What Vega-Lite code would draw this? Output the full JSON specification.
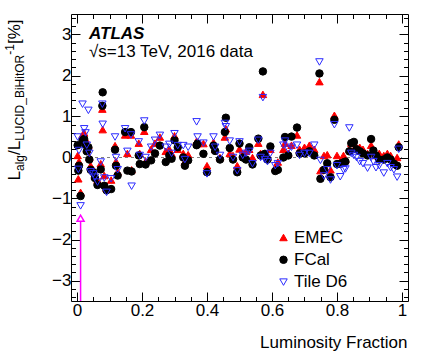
{
"$schema": "https://vega.github.io/schema/vega-lite/v6.json",
"width": 337, "height": 287,
"autosize": "none",
"padding": {"left": 71, "top": 14, "right": 17, "bottom": 61},
"background": "white",
"config": {
  "font": "Liberation Sans",
  "view": {"stroke": "#000000", "strokeWidth": 1},
  "axis": {"domain": false, "grid": false, "tickColor": "#000000", "tickWidth": 1, "labelFont": "Liberation Sans", "labelFontSize": 17, "labelColor": "#000000", "titleFont": "Liberation Sans", "titleFontSize": 17, "titleFontWeight": "normal", "titleColor": "#000000", "labelOverlap": false, "labelFlush": false}
},
"datasets": {
  "zero": [{"x0": 0, "x1": 1, "y": 0}],
  "arrow": [{"x": 0.011, "y0": -3.5, "y1": -1.555, "tip": -1.48}],
  "pts": [
{"series":"EMEC","x":0.002,"y":0.05},{"series":"EMEC","x":0.004,"y":-0.52},{"series":"EMEC","x":0.006,"y":-0.10},{"series":"EMEC","x":0.011,"y":-0.85},{"series":"EMEC","x":0.017,"y":0.55},{"series":"EMEC","x":0.022,"y":0.60},{"series":"EMEC","x":0.026,"y":0.45},{"series":"EMEC","x":0.030,"y":0.20},{"series":"EMEC","x":0.035,"y":0.30},{"series":"EMEC","x":0.038,"y":0.00},{"series":"EMEC","x":0.042,"y":-0.20},{"series":"EMEC","x":0.050,"y":-0.30},{"series":"EMEC","x":0.055,"y":-0.45},{"series":"EMEC","x":0.063,"y":-0.55},{"series":"EMEC","x":0.073,"y":-0.15},{"series":"EMEC","x":0.078,"y":1.18},{"series":"EMEC","x":0.079,"y":0.68},{"series":"EMEC","x":0.084,"y":-0.44},{"series":"EMEC","x":0.091,"y":-0.75},{"series":"EMEC","x":0.105,"y":-0.55},{"series":"EMEC","x":0.117,"y":0.29},{"series":"EMEC","x":0.120,"y":-0.10},{"series":"EMEC","x":0.125,"y":-0.35},{"series":"EMEC","x":0.148,"y":0.55},{"series":"EMEC","x":0.155,"y":0.10},{"series":"EMEC","x":0.166,"y":0.55},{"series":"EMEC","x":0.168,"y":-0.30},{"series":"EMEC","x":0.190,"y":0.35},{"series":"EMEC","x":0.193,"y":0.10},{"series":"EMEC","x":0.207,"y":0.64},{"series":"EMEC","x":0.211,"y":-0.10},{"series":"EMEC","x":0.228,"y":0.20},{"series":"EMEC","x":0.240,"y":0.35},{"series":"EMEC","x":0.255,"y":0.50},{"series":"EMEC","x":0.273,"y":0.15},{"series":"EMEC","x":0.284,"y":0.20},{"series":"EMEC","x":0.291,"y":0.10},{"series":"EMEC","x":0.300,"y":0.53},{"series":"EMEC","x":0.310,"y":0.20},{"series":"EMEC","x":0.327,"y":0.10},{"series":"EMEC","x":0.332,"y":-0.10},{"series":"EMEC","x":0.342,"y":0.07},{"series":"EMEC","x":0.368,"y":0.40},{"series":"EMEC","x":0.371,"y":0.34},{"series":"EMEC","x":0.389,"y":0.34},{"series":"EMEC","x":0.400,"y":-0.20},{"series":"EMEC","x":0.420,"y":0.37},{"series":"EMEC","x":0.425,"y":0.20},{"series":"EMEC","x":0.440,"y":0.00},{"series":"EMEC","x":0.455,"y":0.50},{"series":"EMEC","x":0.458,"y":0.70},{"series":"EMEC","x":0.470,"y":0.10},{"series":"EMEC","x":0.480,"y":0.05},{"series":"EMEC","x":0.493,"y":-0.20},{"series":"EMEC","x":0.500,"y":0.21},{"series":"EMEC","x":0.510,"y":0.10},{"series":"EMEC","x":0.520,"y":0.15},{"series":"EMEC","x":0.530,"y":0.20},{"series":"EMEC","x":0.540,"y":0.00},{"series":"EMEC","x":0.558,"y":0.35},{"series":"EMEC","x":0.565,"y":0.10},{"series":"EMEC","x":0.572,"y":1.54},{"series":"EMEC","x":0.578,"y":0.05},{"series":"EMEC","x":0.586,"y":0.00},{"series":"EMEC","x":0.595,"y":0.20},{"series":"EMEC","x":0.610,"y":-0.25},{"series":"EMEC","x":0.618,"y":-0.11},{"series":"EMEC","x":0.635,"y":0.20},{"series":"EMEC","x":0.640,"y":0.35},{"series":"EMEC","x":0.650,"y":0.10},{"series":"EMEC","x":0.660,"y":0.30},{"series":"EMEC","x":0.677,"y":0.55},{"series":"EMEC","x":0.685,"y":0.20},{"series":"EMEC","x":0.700,"y":0.25},{"series":"EMEC","x":0.715,"y":0.30},{"series":"EMEC","x":0.730,"y":0.20},{"series":"EMEC","x":0.746,"y":1.85},{"series":"EMEC","x":0.749,"y":-0.32},{"series":"EMEC","x":0.760,"y":0.05},{"series":"EMEC","x":0.770,"y":0.07},{"series":"EMEC","x":0.780,"y":-0.30},{"series":"EMEC","x":0.792,"y":1.03},{"series":"EMEC","x":0.800,"y":0.05},{"series":"EMEC","x":0.810,"y":-0.10},{"series":"EMEC","x":0.820,"y":0.05},{"series":"EMEC","x":0.826,"y":-0.05},{"series":"EMEC","x":0.838,"y":0.20},{"series":"EMEC","x":0.844,"y":0.35},{"series":"EMEC","x":0.852,"y":0.20},{"series":"EMEC","x":0.860,"y":0.25},{"series":"EMEC","x":0.870,"y":0.25},{"series":"EMEC","x":0.880,"y":0.20},{"series":"EMEC","x":0.894,"y":0.10},{"series":"EMEC","x":0.905,"y":0.30},{"series":"EMEC","x":0.912,"y":0.15},{"series":"EMEC","x":0.920,"y":0.05},{"series":"EMEC","x":0.930,"y":0.10},{"series":"EMEC","x":0.944,"y":0.05},{"series":"EMEC","x":0.955,"y":0.10},{"series":"EMEC","x":0.965,"y":0.05},{"series":"EMEC","x":0.975,"y":-0.10},{"series":"EMEC","x":0.985,"y":0.00},{"series":"EMEC","x":0.990,"y":0.33},
{"series":"FCal","x":0.002,"y":0.30},{"series":"FCal","x":0.004,"y":-0.32},{"series":"FCal","x":0.006,"y":-0.20},{"series":"FCal","x":0.011,"y":-0.94},{"series":"FCal","x":0.017,"y":0.42},{"series":"FCal","x":0.022,"y":0.45},{"series":"FCal","x":0.026,"y":0.31},{"series":"FCal","x":0.030,"y":0.15},{"series":"FCal","x":0.035,"y":0.25},{"series":"FCal","x":0.038,"y":-0.05},{"series":"FCal","x":0.042,"y":-0.30},{"series":"FCal","x":0.050,"y":-0.36},{"series":"FCal","x":0.055,"y":-0.50},{"series":"FCal","x":0.063,"y":-0.67},{"series":"FCal","x":0.073,"y":-0.29},{"series":"FCal","x":0.078,"y":1.26},{"series":"FCal","x":0.079,"y":1.59},{"series":"FCal","x":0.084,"y":-0.69},{"series":"FCal","x":0.091,"y":-0.80},{"series":"FCal","x":0.105,"y":-0.77},{"series":"FCal","x":0.117,"y":0.19},{"series":"FCal","x":0.120,"y":-0.20},{"series":"FCal","x":0.125,"y":-0.44},{"series":"FCal","x":0.148,"y":0.62},{"series":"FCal","x":0.155,"y":-0.32},{"series":"FCal","x":0.166,"y":0.62},{"series":"FCal","x":0.168,"y":-0.34},{"series":"FCal","x":0.190,"y":0.05},{"series":"FCal","x":0.193,"y":-0.16},{"series":"FCal","x":0.207,"y":0.74},{"series":"FCal","x":0.211,"y":-0.17},{"series":"FCal","x":0.228,"y":-0.07},{"series":"FCal","x":0.240,"y":0.10},{"series":"FCal","x":0.255,"y":0.29},{"series":"FCal","x":0.273,"y":-0.11},{"series":"FCal","x":0.284,"y":0.05},{"series":"FCal","x":0.291,"y":-0.03},{"series":"FCal","x":0.300,"y":0.42},{"series":"FCal","x":0.310,"y":0.25},{"series":"FCal","x":0.327,"y":0.00},{"series":"FCal","x":0.332,"y":-0.20},{"series":"FCal","x":0.342,"y":-0.07},{"series":"FCal","x":0.368,"y":0.30},{"series":"FCal","x":0.371,"y":0.34},{"series":"FCal","x":0.389,"y":0.09},{"series":"FCal","x":0.400,"y":-0.36},{"series":"FCal","x":0.420,"y":0.29},{"series":"FCal","x":0.425,"y":0.16},{"series":"FCal","x":0.440,"y":-0.05},{"series":"FCal","x":0.455,"y":0.62},{"series":"FCal","x":0.458,"y":0.97},{"series":"FCal","x":0.470,"y":0.23},{"series":"FCal","x":0.480,"y":-0.05},{"series":"FCal","x":0.493,"y":-0.36},{"series":"FCal","x":0.500,"y":0.34},{"series":"FCal","x":0.510,"y":0.00},{"series":"FCal","x":0.520,"y":-0.05},{"series":"FCal","x":0.530,"y":0.25},{"series":"FCal","x":0.540,"y":-0.17},{"series":"FCal","x":0.558,"y":0.46},{"series":"FCal","x":0.565,"y":0.05},{"series":"FCal","x":0.572,"y":2.10},{"series":"FCal","x":0.578,"y":0.09},{"series":"FCal","x":0.586,"y":-0.05},{"series":"FCal","x":0.595,"y":0.27},{"series":"FCal","x":0.610,"y":-0.33},{"series":"FCal","x":0.618,"y":-0.30},{"series":"FCal","x":0.635,"y":0.00},{"series":"FCal","x":0.640,"y":0.50},{"series":"FCal","x":0.650,"y":0.05},{"series":"FCal","x":0.660,"y":0.51},{"series":"FCal","x":0.677,"y":0.73},{"series":"FCal","x":0.685,"y":0.10},{"series":"FCal","x":0.700,"y":0.10},{"series":"FCal","x":0.715,"y":0.15},{"series":"FCal","x":0.730,"y":0.05},{"series":"FCal","x":0.746,"y":2.05},{"series":"FCal","x":0.749,"y":-0.52},{"series":"FCal","x":0.760,"y":-0.30},{"series":"FCal","x":0.770,"y":-0.14},{"series":"FCal","x":0.780,"y":-0.48},{"series":"FCal","x":0.792,"y":0.92},{"series":"FCal","x":0.800,"y":-0.16},{"series":"FCal","x":0.810,"y":-0.15},{"series":"FCal","x":0.820,"y":-0.12},{"series":"FCal","x":0.826,"y":-0.10},{"series":"FCal","x":0.838,"y":0.15},{"series":"FCal","x":0.844,"y":0.35},{"series":"FCal","x":0.852,"y":0.38},{"series":"FCal","x":0.860,"y":0.20},{"series":"FCal","x":0.870,"y":0.15},{"series":"FCal","x":0.880,"y":0.10},{"series":"FCal","x":0.894,"y":0.05},{"series":"FCal","x":0.905,"y":0.45},{"series":"FCal","x":0.912,"y":0.17},{"series":"FCal","x":0.920,"y":0.05},{"series":"FCal","x":0.930,"y":-0.05},{"series":"FCal","x":0.944,"y":-0.05},{"series":"FCal","x":0.955,"y":0.00},{"series":"FCal","x":0.965,"y":-0.05},{"series":"FCal","x":0.975,"y":-0.15},{"series":"FCal","x":0.985,"y":-0.20},{"series":"FCal","x":0.990,"y":0.25},
{"series":"Tile D6","x":0.002,"y":0.50},{"series":"Tile D6","x":0.004,"y":-0.29},{"series":"Tile D6","x":0.006,"y":0.17},{"series":"Tile D6","x":0.011,"y":-1.18},{"series":"Tile D6","x":0.017,"y":1.30},{"series":"Tile D6","x":0.022,"y":0.70},{"series":"Tile D6","x":0.026,"y":0.60},{"series":"Tile D6","x":0.030,"y":0.30},{"series":"Tile D6","x":0.035,"y":1.15},{"series":"Tile D6","x":0.038,"y":0.10},{"series":"Tile D6","x":0.042,"y":-0.35},{"series":"Tile D6","x":0.050,"y":-0.40},{"series":"Tile D6","x":0.055,"y":-0.48},{"series":"Tile D6","x":0.063,"y":-0.60},{"series":"Tile D6","x":0.073,"y":-0.11},{"series":"Tile D6","x":0.078,"y":1.30},{"series":"Tile D6","x":0.079,"y":0.81},{"series":"Tile D6","x":0.084,"y":-0.50},{"series":"Tile D6","x":0.091,"y":-0.85},{"series":"Tile D6","x":0.105,"y":-0.52},{"series":"Tile D6","x":0.117,"y":0.50},{"series":"Tile D6","x":0.120,"y":0.00},{"series":"Tile D6","x":0.125,"y":-0.30},{"series":"Tile D6","x":0.148,"y":0.70},{"series":"Tile D6","x":0.155,"y":0.15},{"series":"Tile D6","x":0.166,"y":0.55},{"series":"Tile D6","x":0.168,"y":-0.70},{"series":"Tile D6","x":0.190,"y":0.38},{"series":"Tile D6","x":0.193,"y":0.05},{"series":"Tile D6","x":0.207,"y":0.89},{"series":"Tile D6","x":0.211,"y":0.00},{"series":"Tile D6","x":0.228,"y":0.25},{"series":"Tile D6","x":0.240,"y":0.42},{"series":"Tile D6","x":0.255,"y":0.54},{"series":"Tile D6","x":0.273,"y":0.25},{"series":"Tile D6","x":0.284,"y":0.32},{"series":"Tile D6","x":0.291,"y":0.10},{"series":"Tile D6","x":0.300,"y":0.58},{"series":"Tile D6","x":0.310,"y":0.29},{"series":"Tile D6","x":0.327,"y":0.29},{"series":"Tile D6","x":0.332,"y":-0.05},{"series":"Tile D6","x":0.342,"y":0.25},{"series":"Tile D6","x":0.368,"y":0.87},{"series":"Tile D6","x":0.371,"y":0.50},{"series":"Tile D6","x":0.389,"y":0.35},{"series":"Tile D6","x":0.400,"y":-0.40},{"series":"Tile D6","x":0.420,"y":0.50},{"series":"Tile D6","x":0.425,"y":0.25},{"series":"Tile D6","x":0.440,"y":0.05},{"series":"Tile D6","x":0.455,"y":0.83},{"series":"Tile D6","x":0.458,"y":0.75},{"series":"Tile D6","x":0.470,"y":0.40},{"series":"Tile D6","x":0.480,"y":0.00},{"series":"Tile D6","x":0.493,"y":-0.32},{"series":"Tile D6","x":0.500,"y":0.38},{"series":"Tile D6","x":0.510,"y":0.05},{"series":"Tile D6","x":0.520,"y":0.10},{"series":"Tile D6","x":0.530,"y":0.15},{"series":"Tile D6","x":0.540,"y":-0.15},{"series":"Tile D6","x":0.558,"y":0.42},{"series":"Tile D6","x":0.565,"y":0.00},{"series":"Tile D6","x":0.572,"y":1.46},{"series":"Tile D6","x":0.578,"y":-0.05},{"series":"Tile D6","x":0.586,"y":-0.10},{"series":"Tile D6","x":0.595,"y":0.10},{"series":"Tile D6","x":0.610,"y":-0.20},{"series":"Tile D6","x":0.618,"y":-0.15},{"series":"Tile D6","x":0.635,"y":0.30},{"series":"Tile D6","x":0.640,"y":0.40},{"series":"Tile D6","x":0.650,"y":0.20},{"series":"Tile D6","x":0.660,"y":0.25},{"series":"Tile D6","x":0.677,"y":0.30},{"series":"Tile D6","x":0.685,"y":0.05},{"series":"Tile D6","x":0.700,"y":0.10},{"series":"Tile D6","x":0.715,"y":0.10},{"series":"Tile D6","x":0.730,"y":0.30},{"series":"Tile D6","x":0.746,"y":2.33},{"series":"Tile D6","x":0.749,"y":-0.07},{"series":"Tile D6","x":0.760,"y":-0.45},{"series":"Tile D6","x":0.770,"y":-0.30},{"series":"Tile D6","x":0.780,"y":-0.55},{"series":"Tile D6","x":0.792,"y":0.80},{"series":"Tile D6","x":0.800,"y":-0.20},{"series":"Tile D6","x":0.810,"y":-0.47},{"series":"Tile D6","x":0.820,"y":-0.30},{"series":"Tile D6","x":0.826,"y":-0.28},{"series":"Tile D6","x":0.838,"y":0.72},{"series":"Tile D6","x":0.844,"y":0.10},{"series":"Tile D6","x":0.852,"y":0.05},{"series":"Tile D6","x":0.860,"y":0.00},{"series":"Tile D6","x":0.870,"y":-0.10},{"series":"Tile D6","x":0.880,"y":-0.15},{"series":"Tile D6","x":0.894,"y":-0.26},{"series":"Tile D6","x":0.905,"y":0.00},{"series":"Tile D6","x":0.912,"y":-0.10},{"series":"Tile D6","x":0.920,"y":-0.25},{"series":"Tile D6","x":0.930,"y":-0.20},{"series":"Tile D6","x":0.944,"y":-0.38},{"series":"Tile D6","x":0.955,"y":-0.15},{"series":"Tile D6","x":0.965,"y":-0.25},{"series":"Tile D6","x":0.975,"y":-0.30},{"series":"Tile D6","x":0.985,"y":-0.48},{"series":"Tile D6","x":0.990,"y":0.20}
  ]
},
"layer": [
  {
    "data": {"name": "zero"},
    "mark": {"type": "rule", "color": "#808080", "strokeWidth": 1, "strokeDash": [3, 3]},
    "encoding": {
      "x": {"field": "x0", "type": "quantitative", "scale": {"domain": [-0.0185, 1.0185], "nice": false, "zero": false},
        "axis": {"orient": "top", "values": [0,0.05,0.1,0.15,0.2,0.25,0.3,0.35,0.4,0.45,0.5,0.55,0.6,0.65,0.7,0.75,0.8,0.85,0.9,0.95,1], "labels": false, "title": null,
          "tickSize": {"condition": {"test": "abs(datum.value*5-round(datum.value*5))<0.001", "value": -9}, "value": -4.5}}},
      "x2": {"field": "x1"},
      "y": {"field": "y", "type": "quantitative", "scale": {"domain": [-3.5, 3.5], "nice": false, "zero": false},
        "axis": {"orient": "right", "values": [-3.4,-3.2,-3,-2.8,-2.6,-2.4,-2.2,-2,-1.8,-1.6,-1.4,-1.2,-1,-0.8,-0.6,-0.4,-0.2,0,0.2,0.4,0.6,0.8,1,1.2,1.4,1.6,1.8,2,2.2,2.4,2.6,2.8,3,3.2,3.4], "labels": false, "title": null,
          "tickSize": {"condition": {"test": "abs(datum.value-round(datum.value))<0.001", "value": -9}, "value": -4.5}}}
    }
  },
  {
    "data": {"name": "pts"},
    "mark": {"type": "point", "size": 56, "strokeWidth": 1, "opacity": 1},
    "encoding": {
      "x": {"field": "x", "type": "quantitative", "scale": {"domain": [-0.0185, 1.0185], "nice": false, "zero": false},
        "axis": {"orient": "bottom", "values": [0,0.05,0.1,0.15,0.2,0.25,0.3,0.35,0.4,0.45,0.5,0.55,0.6,0.65,0.7,0.75,0.8,0.85,0.9,0.95,1],
          "labelExpr": "abs(datum.value*5-round(datum.value*5))<0.001 ? format(datum.value, '.1~f') : ''",
          "labelPadding": 10,
          "tickSize": {"condition": {"test": "abs(datum.value*5-round(datum.value*5))<0.001", "value": -9}, "value": -4.5},
          "title": "Luminosity Fraction", "titleAnchor": "end", "titleAlign": "right", "titleX": 336, "titleY": 46, "titleBaseline": "alphabetic"}},
      "y": {"field": "y", "type": "quantitative", "scale": {"domain": [-3.5, 3.5], "nice": false, "zero": false},
        "axis": {"orient": "left", "values": [-3.4,-3.2,-3,-2.8,-2.6,-2.4,-2.2,-2,-1.8,-1.6,-1.4,-1.2,-1,-0.8,-0.6,-0.4,-0.2,0,0.2,0.4,0.6,0.8,1,1.2,1.4,1.6,1.8,2,2.2,2.4,2.6,2.8,3,3.2,3.4],
          "labelExpr": "abs(datum.value-round(datum.value))<0.001 ? format(round(datum.value), 'd') : ''",
          "labelPadding": 9, "title": null,
          "tickSize": {"condition": {"test": "abs(datum.value-round(datum.value))<0.001", "value": -9}, "value": -4.5}}},
      "shape": {"field": "series", "type": "nominal", "scale": {"domain": ["EMEC", "FCal", "Tile D6"], "range": ["triangle-up", "circle", "triangle-down"]},
        "legend": {"title": null, "orient": "none", "legendX": 204, "legendY": 215, "labelFontSize": 17, "labelFont": "Liberation Sans", "labelColor": "#000000", "symbolSize": 56, "symbolStrokeWidth": 1, "rowPadding": 4.3, "labelOffset": 2, "padding": 0}},
      "fill": {"field": "series", "type": "nominal", "scale": {"domain": ["EMEC", "FCal", "Tile D6"], "range": ["#ff0000", "#000000", "transparent"]},
        "legend": {"title": null, "orient": "none", "legendX": 204, "legendY": 215, "labelFontSize": 17, "labelFont": "Liberation Sans", "labelColor": "#000000", "symbolSize": 56, "symbolStrokeWidth": 1, "rowPadding": 4.3, "labelOffset": 2, "padding": 0}},
      "stroke": {"field": "series", "type": "nominal", "scale": {"domain": ["EMEC", "FCal", "Tile D6"], "range": ["#ff0000", "#000000", "#2b2bff"]},
        "legend": {"title": null, "orient": "none", "legendX": 204, "legendY": 215, "labelFontSize": 17, "labelFont": "Liberation Sans", "labelColor": "#000000", "symbolSize": 56, "symbolStrokeWidth": 1, "rowPadding": 4.3, "labelOffset": 2, "padding": 0}}
    }
  },
  {
    "data": {"name": "arrow"},
    "mark": {"type": "rule", "color": "#ff00ff", "strokeWidth": 1.5},
    "encoding": {
      "x": {"field": "x", "type": "quantitative", "axis": null},
      "y": {"field": "y0", "type": "quantitative", "axis": null},
      "y2": {"field": "y1"}
    }
  },
  {
    "data": {"name": "arrow"},
    "mark": {"type": "point", "shape": "triangle-up", "size": 49, "filled": false, "stroke": "#ff00ff", "strokeWidth": 1.5, "opacity": 1},
    "encoding": {
      "x": {"field": "x", "type": "quantitative", "axis": null},
      "y": {"field": "tip", "type": "quantitative", "axis": null}
    }
  },
  {"data": {"values": [{}]}, "mark": {"type": "text", "text": "ATLAS", "x": 18, "y": 25, "align": "left", "baseline": "alphabetic", "font": "Liberation Sans", "fontSize": 17, "fontWeight": "bold", "fontStyle": "italic", "color": "#000000"}, "encoding": {}},
  {"data": {"values": [{}]}, "mark": {"type": "text", "text": "√s=13 TeV, 2016 data", "x": 18, "y": 43, "align": "left", "baseline": "alphabetic", "font": "Liberation Sans", "fontSize": 17, "color": "#000000"}, "encoding": {}},
  {"data": {"values": [{}]}, "mark": {"type": "text", "text": "L", "x": -51, "y": 166.5, "angle": 270, "align": "left", "baseline": "alphabetic", "font": "Liberation Sans", "fontSize": 17, "color": "#000000"}, "encoding": {}},
  {"data": {"values": [{}]}, "mark": {"type": "text", "text": "alg", "x": -47.5, "y": 157, "angle": 270, "align": "left", "baseline": "alphabetic", "font": "Liberation Sans", "fontSize": 12, "color": "#000000"}, "encoding": {}},
  {"data": {"values": [{}]}, "mark": {"type": "text", "text": "/L", "x": -51, "y": 141, "angle": 270, "align": "left", "baseline": "alphabetic", "font": "Liberation Sans", "fontSize": 17, "color": "#000000"}, "encoding": {}},
  {"data": {"values": [{}]}, "mark": {"type": "text", "text": "LUCID_BiHitOR", "x": -47.5, "y": 126.8, "angle": 270, "align": "left", "baseline": "alphabetic", "font": "Liberation Sans", "fontSize": 12, "color": "#000000"}, "encoding": {}},
  {"data": {"values": [{}]}, "mark": {"type": "text", "text": "-1", "x": -57.5, "y": 40.8, "angle": 270, "align": "left", "baseline": "alphabetic", "font": "Liberation Sans", "fontSize": 12, "color": "#000000"}, "encoding": {}},
  {"data": {"values": [{}]}, "mark": {"type": "text", "text": " [%]", "x": -51, "y": 30, "angle": 270, "align": "left", "baseline": "alphabetic", "font": "Liberation Sans", "fontSize": 17, "color": "#000000"}, "encoding": {}}
],
"resolve": {"axis": {"x": "independent", "y": "independent"}}
}
